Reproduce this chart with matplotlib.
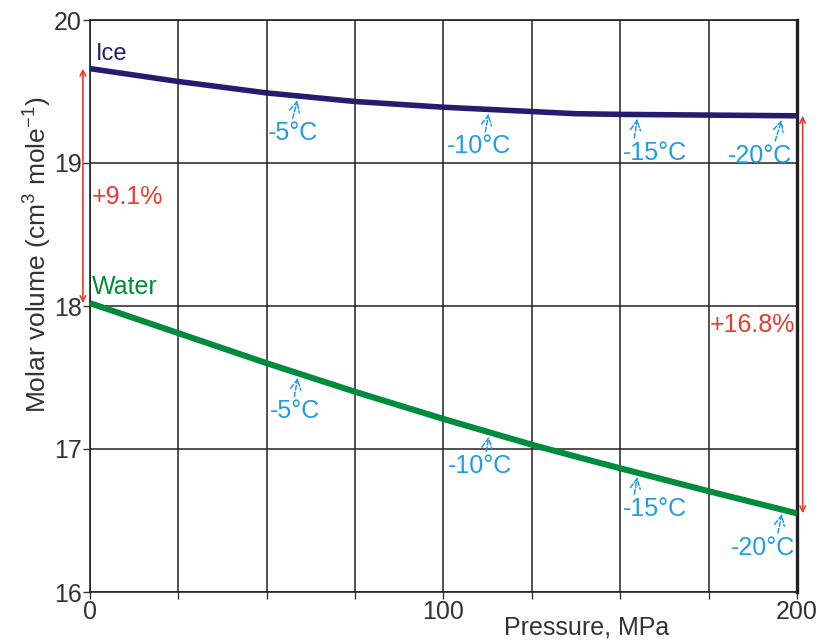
import numpy as np
import matplotlib
matplotlib.use('Agg')
import matplotlib.pyplot as plt

plt.rcParams['font.family'] = ['Liberation Sans', 'DejaVu Sans']
plt.rcParams['mathtext.fontset'] = 'custom'
plt.rcParams['mathtext.rm'] = 'Liberation Sans'
plt.rcParams['mathtext.default'] = 'regular'

# molar volume along the melting curve, pressure in MPa
pressure = [0, 25, 50, 75, 100, 125, 137, 150, 175, 200]
ice_vol = [19.66, 19.57, 19.49, 19.43, 19.39, 19.36, 19.345, 19.34, 19.335, 19.33]
water_vol = [18.02, 17.81, 17.60, 17.40, 17.21, 17.03, 16.95, 16.865, 16.705, 16.55]

# melting temperature marks along the curve
temp_labels = ['-5°C', '-10°C', '-15°C', '-20°C']
temp_pressure = [59, 113, 155, 196]
arrow_relx = [0.48, 0.58, 0.17, 0.72]   # where the arrow leaves the label

ice_off = [(-6, 37), (-10, 37), (17, 38), (-23, 40)]     # label offsets, px
water_off = [(-4, 38), (-9, 34), (17, 36), (-20, 38)]

ICE_C = '#241c6e'
WATER_C = '#008c3c'
TEMP_C = '#1e9ce6'
RED = '#e83a30'
FS = 18

fig = plt.figure(figsize=(8.29, 6.43), dpi=100)
ax = fig.add_axes([90/829, 1 - 592/643, 707/829, 572/643])

ax.plot(pressure, ice_vol, color=ICE_C, lw=4.0, solid_capstyle='butt', zorder=4)
ax.plot(pressure, water_vol, color=WATER_C, lw=4.4, solid_capstyle='butt', zorder=4)

ax.set_xlim(0, 200)
ax.set_ylim(16, 20)
ax.set_xticks([0, 100, 200])
ax.set_xticks(np.arange(0, 201, 25), minor=True)
ax.set_yticks([16, 17, 18, 19, 20])
ax.grid(True, which='both', color='#222222', lw=1.1)
ax.set_axisbelow(True)
ax.tick_params(axis='both', which='both', direction='out', length=5, width=1,
               color='#333333', labelcolor='#333333', labelsize=FS, pad=1)
for s in ax.spines.values():
    s.set_color('#222222')
    s.set_linewidth(1.2)
ax.spines['right'].set_linewidth(2.4)


def px2pt(d):
    return (d[0] * 0.72, -d[1] * 0.72)


for curve, offs in [(ice_vol, ice_off), (water_vol, water_off)]:
    for lab, p, off, rx in zip(temp_labels, temp_pressure, offs, arrow_relx):
        v = np.interp(p, pressure, curve)
        ax.annotate(lab, xy=(p, v), xytext=px2pt(off), textcoords='offset points',
                    ha='center', va='center', color=TEMP_C, fontsize=FS, zorder=5,
                    arrowprops=dict(arrowstyle='->', color=TEMP_C, lw=1.1,
                                    linestyle=(0, (3, 1.5)), relpos=(rx, 0.95),
                                    shrinkA=0, shrinkB=3))

# relative volume change, ice vs water
ax.annotate('', xy=(-2, ice_vol[0]), xytext=(-2, water_vol[0]), annotation_clip=False,
            arrowprops=dict(arrowstyle='<->', color=RED, lw=1.2, shrinkA=0, shrinkB=0))
ax.annotate('', xy=(201.6, ice_vol[-1]), xytext=(201.6, water_vol[-1]), annotation_clip=False,
            arrowprops=dict(arrowstyle='<->', color=RED, lw=1.2, shrinkA=0, shrinkB=0))
ax.text(0.6, 18.76, '+%.1f%%' % ((ice_vol[0] / water_vol[0] - 1) * 100),
        color=RED, fontsize=FS, ha='left', va='center')
ax.text(199.5, 17.87, '+%.1f%%' % ((ice_vol[-1] / water_vol[-1] - 1) * 100),
        color=RED, fontsize=FS, ha='right', va='center')

ax.text(1.7, 19.76, 'Ice', color=ICE_C, fontsize=FS - 1, ha='left', va='center')
ax.text(0.6, 18.13, 'Water', color=WATER_C, fontsize=FS, ha='left', va='center')

fig.text(587/829, 1 - 628/643, 'Pressure, MPa', ha='center', va='center',
         fontsize=FS, color='#333333')
fig.text(38/829, 1 - 255/643, 'Molar volume (cm$^{3}$ mole$^{-1}$)', rotation=90,
         ha='center', va='center', fontsize=FS + 1, color='#333333')

fig.savefig('out.png', dpi=100)
